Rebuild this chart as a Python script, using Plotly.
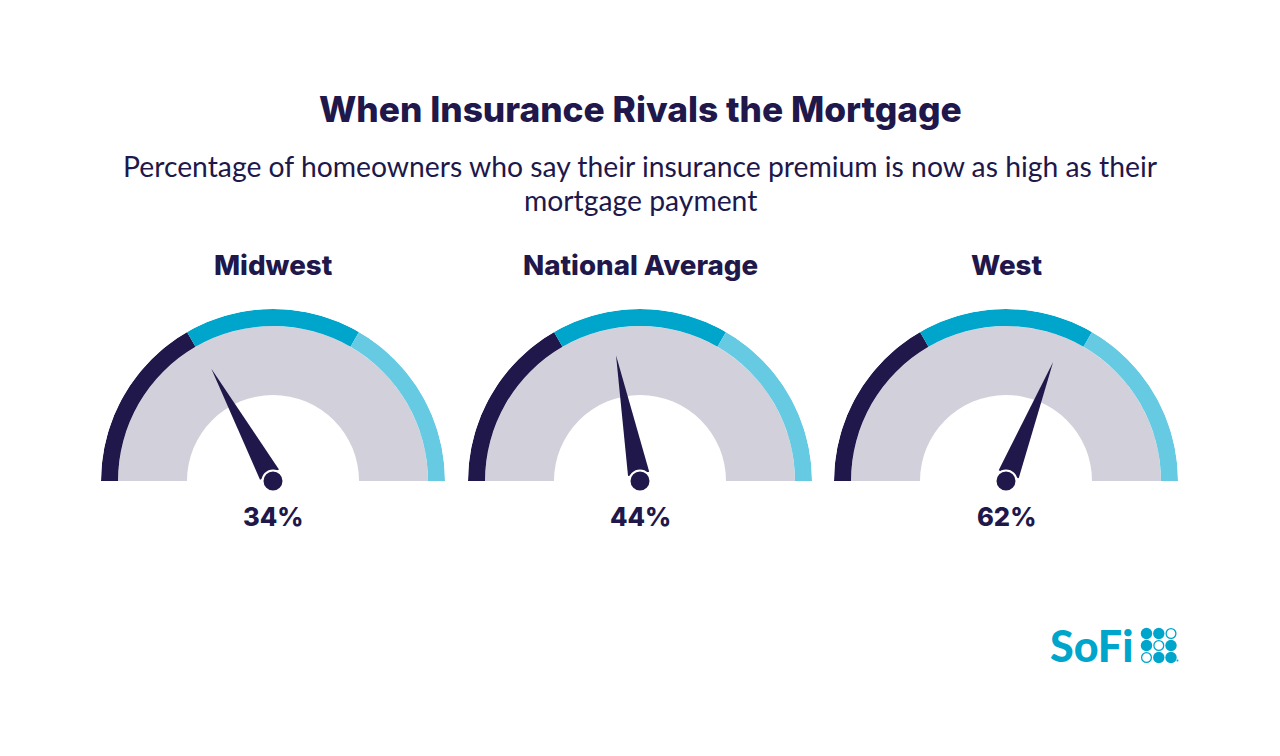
import plotly.graph_objects as go

W = 1280
H = 756

regions = ['Midwest', 'National Average', 'West']
percents = [34, 44, 62]
centers = [273, 640, 1006]

# gauge bands, left to right (share of the half circle)
band_shares = [1 / 3, 1 / 3, 1 / 3]
band_colors = ['#20174A', '#00A5CB', '#66CAE3']

DARK = '#20174A'
TEAL = '#00A5CB'
GREY = '#D2D1DB'

CY = 481
R_OUT = 172
R_RING = 155
R_HOLE = 86
NEEDLE_LEN = 128

TITLE_FONT = 'Inter'
BODY_FONT = 'Lato'


def px(x):
    return x / W


def py(y):
    return 1 - y / H


fig = go.Figure()
polar_layout = {}

for i, (name, pct, cx) in enumerate(zip(regions, percents, centers)):
    key = 'polar' if i == 0 else f'polar{i + 1}'

    # grey body of the gauge
    fig.add_trace(go.Barpolar(r=[R_RING - R_HOLE], base=[R_HOLE], theta=[90], width=[180],
                              marker=dict(color=GREY, line=dict(width=0)),
                              subplot=key, showlegend=False, hoverinfo='skip'))

    # coloured outer bands
    start = 0
    for share, color in zip(band_shares, band_colors):
        span = share * 180
        fig.add_trace(go.Barpolar(r=[R_OUT - R_RING], base=[R_RING], theta=[180 - start - span / 2], width=[span],
                                  marker=dict(color=color, line=dict(width=0)),
                                  subplot=key, showlegend=False, hoverinfo='skip'))
        start += span

    # needle, pointing at the percent value
    angle = 180 * (1 - pct / 100)
    fig.add_trace(go.Scatterpolar(r=[NEEDLE_LEN, 13, 13, NEEDLE_LEN], theta=[angle, angle + 56, angle - 56, angle],
                                  mode='lines', fill='toself', fillcolor=DARK, line=dict(color=DARK, width=0),
                                  subplot=key, showlegend=False, hoverinfo='skip'))
    fig.add_trace(go.Scatterpolar(r=[0], theta=[angle], mode='markers',
                                  marker=dict(color=DARK, size=21, line=dict(color='white', width=2)),
                                  subplot=key, showlegend=False, hoverinfo='skip'))

    polar_layout[key] = dict(
        domain=dict(x=[px(cx - R_OUT), px(cx + R_OUT)], y=[py(CY), py(CY - R_OUT)]),
        sector=[0, 180],
        barmode='overlay',
        bgcolor='rgba(0,0,0,0)',
        radialaxis=dict(range=[0, R_OUT], visible=False),
        angularaxis=dict(visible=False, thetaunit='degrees'),
    )

annotations = [
    dict(x=px(640), y=py(109), text='When Insurance Rivals the Mortgage',
         font=dict(family=TITLE_FONT, size=35.3, color=DARK, weight=800)),
    dict(x=px(640), y=py(166), text='Percentage of homeowners who say their insurance premium is now as high as their',
         font=dict(family=BODY_FONT, size=28.3, color=DARK)),
    dict(x=px(640), y=py(200), text='mortgage payment',
         font=dict(family=BODY_FONT, size=28.3, color=DARK)),
    dict(x=px(1091.5), y=py(645.5), text='SoFi',
         font=dict(family=BODY_FONT, size=43, color=TEAL, weight=900)),
]
for name, pct, cx in zip(regions, percents, centers):
    annotations.append(dict(x=px(cx), y=py(265), text=name,
                            font=dict(family=TITLE_FONT, size=27.7, color=DARK, weight=800)))
    annotations.append(dict(x=px(cx), y=py(516), text=f'{pct}%',
                            font=dict(family=TITLE_FONT, size=25.5, color=DARK, weight=800)))
for a in annotations:
    a.update(xref='paper', yref='paper', xanchor='center', yanchor='middle', showarrow=False)

# logo dots
shapes = []
for row, y in enumerate([633.5, 645.5, 657.5]):
    for col, x in enumerate([1146.5, 1158.8, 1171]):
        hollow = (row, col) in [(0, 2), (1, 1), (2, 0)]
        r = 4.9 if hollow else 5.7
        shapes.append(dict(type='circle', xref='paper', yref='paper',
                           x0=px(x - r), x1=px(x + r), y0=py(y + r), y1=py(y - r),
                           fillcolor='white' if hollow else TEAL,
                           line=dict(color=TEAL, width=1.3 if hollow else 0)))
shapes.append(dict(type='circle', xref='paper', yref='paper',
                   x0=px(1176.5), x1=px(1178.5), y0=py(661.5), y1=py(659.5),
                   fillcolor=TEAL, line=dict(width=0)))

fig.update_layout(width=W, height=H, margin=dict(l=0, r=0, t=0, b=0),
                  paper_bgcolor='white', plot_bgcolor='white',
                  annotations=annotations, shapes=shapes, showlegend=False, **polar_layout)

# page body has a default 8px margin, drop it so the figure sits at 0,0
fig.write_html("out.html", config=dict(displayModeBar=False), post_script="document.body.style.margin='0';")
